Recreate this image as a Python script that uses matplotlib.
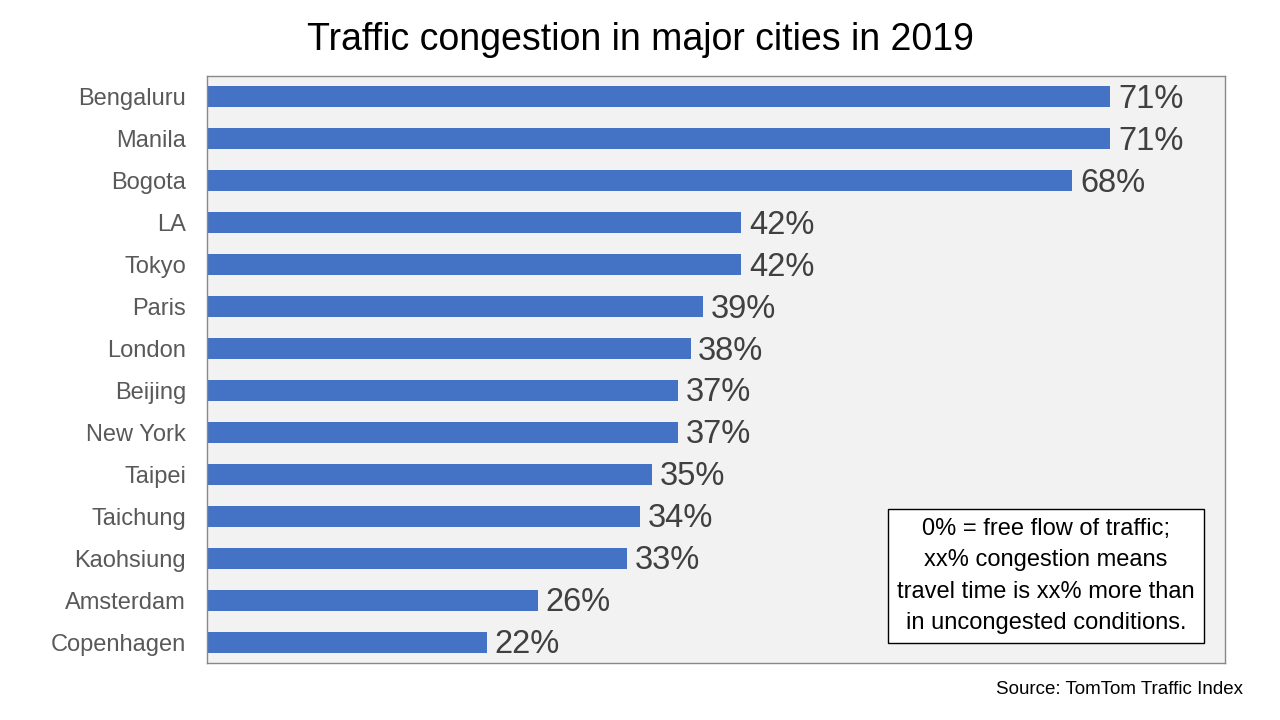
import matplotlib.pyplot as plt

plt.rcParams['font.family'] = ['Liberation Sans', 'DejaVu Sans']

cities = ["Bengaluru", "Manila", "Bogota", "LA", "Tokyo", "Paris", "London",
          "Beijing", "New York", "Taipei", "Taichung", "Kaohsiung",
          "Amsterdam", "Copenhagen"]
congestion = [71, 71, 68, 42, 42, 39, 38, 37, 37, 35, 34, 33, 26, 22]

fig = plt.figure(figsize=(12.8, 7.2), dpi=100)
ax = fig.add_axes([207 / 1280, 57 / 720, 1018 / 1280, 587 / 720])
ax.set_facecolor('#F2F2F2')

pos = list(range(len(cities)))
ax.barh(pos, congestion, height=0.5, color='#4472C4')
for p, v in zip(pos, congestion):
    ax.text(v + 0.6, p + 0.06, f"{v}%", va='center', ha='left', fontsize=23.5,
            color='#404040')

ax.set_xlim(0, 80)
ax.set_ylim(len(cities) - 0.5, -0.5)
ax.set_xticks([])
ax.set_yticks(pos)
ax.set_yticklabels(cities, fontsize=17, color='#595959')
ax.tick_params(axis='y', length=0, pad=15)
for s in ax.spines.values():
    s.set_color('#898989')
    s.set_linewidth(1)

fig.text(0.5, 1 - 40 / 720, "Traffic congestion in major cities in 2019",
         ha='center', va='center', fontsize=27, color='black')

fig.text(1046 / 1280, 1 - 576 / 720,
         "0% = free flow of traffic;\nxx% congestion means\n"
         "travel time is xx% more than\nin uncongested conditions.",
         ha='center', va='center', fontsize=17, linespacing=1.54,
         bbox=dict(boxstyle='square,pad=0.4', fc='white', ec='black', lw=1))

fig.text(1243 / 1280, 1 - 690 / 720, "Source: TomTom Traffic Index",
         ha='right', va='center', fontsize=13.5, color='black')

fig.savefig('out.png', dpi=100, facecolor='white')
